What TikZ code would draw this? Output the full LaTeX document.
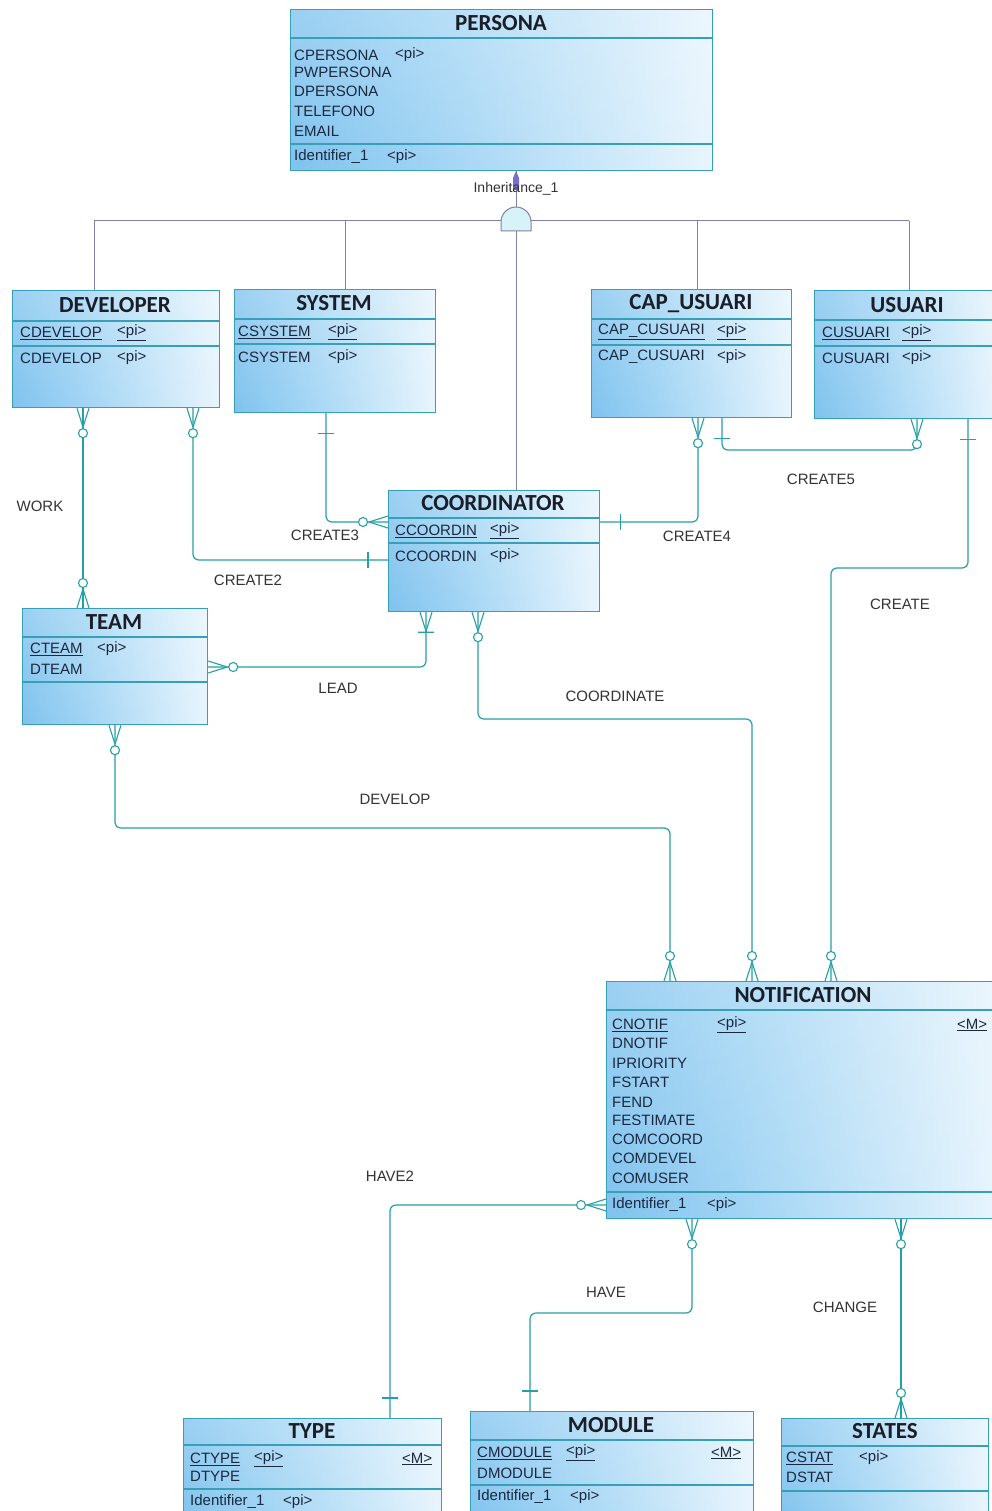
\documentclass[tikz,border=0pt]{standalone}
\usepackage{fontspec}
\setmainfont{Liberation Sans}
\newfontfamily\titlefont{Carlito}
\usetikzlibrary{calc,fadings}
\definecolor{ebord}{RGB}{56,160,182}
\definecolor{conncol}{RGB}{38,160,165}
\definecolor{inhc}{RGB}{128,128,168}
\definecolor{gdark}{RGB}{80,170,230}
\definecolor{gmid}{RGB}{160,212,244}
\definecolor{glight}{RGB}{232,245,253}
\definecolor{txtc}{RGB}{28,40,64}
\definecolor{ttlc}{RGB}{25,30,40}
\definecolor{arrowc}{RGB}{120,110,210}
\definecolor{domec}{RGB}{215,243,248}
\pgfdeclarehorizontalshading{entshade}{100bp}{color(0bp)=(gdark); color(42bp)=(gmid); color(75bp)=(glight); color(100bp)=(white)}
\tikzset{
 entity/.style={draw=ebord, line width=1.2pt, shading=entshade, anchor=north west, inner sep=0pt,
   path picture={\fill[white, opacity=0.22, path fading=south] (path picture bounding box.south west) rectangle (path picture bounding box.north east);}},
 sepline/.style={draw=ebord, line width=1.1pt},
 ttl/.style={font=\titlefont\bfseries\fontsize{23}{25}\selectfont, text=ttlc, inner sep=0pt},
 att/.style={font=\fontsize{15}{17}\selectfont, text=txtc, anchor=west, inner sep=0pt},
 lbl/.style={font=\fontsize{15}{17}\selectfont, text=black!80, inner sep=0pt},
 cn/.style={draw=conncol, line width=1.2pt, rounded corners=6pt},
 cpic/.style={draw=conncol, line width=1.1pt},
 inh/.style={draw=inhc, line width=1pt},
 crowo/.pic={\draw[cpic] (-6,0) -- (0,19) (6,0) -- (0,19); \draw[cpic, fill=white] (0,25) circle[radius=4.5pt];},
 crowbar/.pic={\draw[cpic] (-6,0) -- (0,19) (6,0) -- (0,19) (-8,20) -- (8,20);},
 onebar/.pic={\draw[cpic] (-8,20) -- (8,20);}
}
\newcommand\ent[5]{\node[entity, minimum width=#4pt, minimum height=#5pt] (#1) at (#2,#3) {};}
\newcommand\sepl[2]{\draw[sepline] (#1.west |- 0,#2) -- (#1.east |- 0,#2);}
\begin{document}
\begin{tikzpicture}[x=1pt,y=-1pt]
\useasboundingbox (0,0) rectangle (992,1511);
\clip (0,0) rectangle (992,1511);
\fill[white] (0,0) rectangle (992,1511);

% ---------- entities ----------
\ent{persona}{290}{9}{422}{161}
\ent{developer}{12}{290}{207}{117}
\ent{system}{234}{289}{201}{123}
\ent{capusuari}{591}{289}{200}{128}
\ent{usuari}{814}{290}{186}{128}
\ent{coord}{388}{490}{211}{121}
\ent{team}{22}{608}{185}{116}
\ent{notif}{606}{981}{394}{237}
\ent{type}{183}{1418}{258}{110}
\ent{module}{470}{1411}{283}{117}
\ent{states}{781}{1418}{207}{110}

\sepl{persona}{38}\sepl{persona}{144}
\sepl{developer}{321}\sepl{developer}{346}
\sepl{system}{319}\sepl{system}{344}
\sepl{capusuari}{319}\sepl{capusuari}{345}
\sepl{usuari}{320}\sepl{usuari}{346}
\sepl{coord}{518}\sepl{coord}{543}
\sepl{team}{637}\sepl{team}{682}
\sepl{notif}{1010}\sepl{notif}{1192}
\sepl{type}{1445}\sepl{type}{1489}
\sepl{module}{1440}\sepl{module}{1485}
\sepl{states}{1446}\sepl{states}{1491}

% titles
\node[ttl] (tpersona) at (501,23) {PERSONA};
\node[ttl] (tdeveloper) at (115,305) {DEVELOPER};
\node[ttl] (tsystem) at (334,303) {SYSTEM};
\node[ttl] (tcapusuari) at (691,304) {CAP\_USUARI};
\node[ttl] (tusuari) at (907,305) {USUARI};
\node[ttl] (tcoord) at (493,503) {COORDINATOR};
\node[ttl] (tteam) at (114,622) {TEAM};
\node[ttl] (tnotif) at (803,995) {NOTIFICATION};
\node[ttl] (ttype) at (312,1431) {TYPE};
\node[ttl] (tmodule) at (611,1425) {MODULE};
\node[ttl] (tstates) at (885,1431) {STATES};

% attributes
\node[att] (pa1) at (294,55) {CPERSONA};
\node[att] (pa1p) at (395,55) {<pi>};
\node[att] (pa2) at (294,72) {PWPERSONA};
\node[att] (pa3) at (294,91) {DPERSONA};
\node[att] (pa4) at (294,111) {TELEFONO};
\node[att] (pa5) at (294,131) {EMAIL};
\node[att] (pa6) at (294,157) {Identifier\_1};
\node[att] (pa6p) at (387,157) {<pi>};

\node[att] (da1) at (20,333) {\underline{CDEVELOP}};
\node[att] (da1p) at (117,333) {\underline{<pi>}};
\node[att] (da2) at (20,358) {CDEVELOP};
\node[att] (da2p) at (117,358) {<pi>};

\node[att] (sa1) at (238,332) {\underline{CSYSTEM}};
\node[att] (sa1p) at (328,332) {\underline{<pi>}};
\node[att] (sa2) at (238,357) {CSYSTEM};
\node[att] (sa2p) at (328,357) {<pi>};

\node[att] (ca1) at (598,332) {\underline{CAP\_CUSUARI}};
\node[att] (ca1p) at (717,332) {\underline{<pi>}};
\node[att] (ca2) at (598,357) {CAP\_CUSUARI};
\node[att] (ca2p) at (717,357) {<pi>};

\node[att] (ua1) at (822,333) {\underline{CUSUARI}};
\node[att] (ua1p) at (902,333) {\underline{<pi>}};
\node[att] (ua2) at (822,358) {CUSUARI};
\node[att] (ua2p) at (902,358) {<pi>};

\node[att] (oa1) at (395,531) {\underline{CCOORDIN}};
\node[att] (oa1p) at (490,531) {\underline{<pi>}};
\node[att] (oa2) at (395,556) {CCOORDIN};
\node[att] (oa2p) at (490,556) {<pi>};

\node[att] (ta1) at (30,649) {\underline{CTEAM}};
\node[att] (ta1p) at (97,649) {<pi>};
\node[att] (ta2) at (30,669) {DTEAM};

\node[att] (na1) at (612,1025) {\underline{CNOTIF}};
\node[att] (na1p) at (717,1025) {\underline{<pi>}};
\node[att] (na1m) at (957,1025) {\underline{<M>}};
\node[att] (na2) at (612,1043) {DNOTIF};
\node[att] (na3) at (612,1063) {IPRIORITY};
\node[att] (na4) at (612,1082) {FSTART};
\node[att] (na5) at (612,1102) {FEND};
\node[att] (na6) at (612,1120) {FESTIMATE};
\node[att] (na7) at (612,1139) {COMCOORD};
\node[att] (na8) at (612,1158) {COMDEVEL};
\node[att] (na9) at (612,1178) {COMUSER};
\node[att] (na10) at (612,1205) {Identifier\_1};
\node[att] (na10p) at (707,1205) {<pi>};

\node[att] (ya1) at (190,1459) {\underline{CTYPE}};
\node[att] (ya1p) at (254,1459) {\underline{<pi>}};
\node[att] (ya1m) at (402,1459) {\underline{<M>}};
\node[att] (ya2) at (190,1476) {DTYPE};
\node[att] (ya3) at (190,1502) {Identifier\_1};
\node[att] (ya3p) at (283,1502) {<pi>};

\node[att] (ma1) at (477,1453) {\underline{CMODULE}};
\node[att] (ma1p) at (566,1453) {\underline{<pi>}};
\node[att] (ma1m) at (711,1453) {\underline{<M>}};
\node[att] (ma2) at (477,1473) {DMODULE};
\node[att] (ma3) at (477,1497) {Identifier\_1};
\node[att] (ma3p) at (570,1497) {<pi>};

\node[att] (sta1) at (786,1458) {\underline{CSTAT}};
\node[att] (sta1p) at (859,1458) {<pi>};
\node[att] (sta2) at (786,1477) {DSTAT};

% ---------- inheritance ----------
\coordinate (dome) at (516,231);
\draw[inh] (94,221) -- (909,221);
\draw[inh] (developer.north -| 94,0) -- (94,221);
\draw[inh] (system.north -| 345,0) -- (345,221);
\draw[inh] (capusuari.north -| 697,0) -- (697,221);
\draw[inh] (usuari.north -| 909,0) -- (909,221);
\draw[inh] (coord.north -| 516,0) -- (dome);
\draw[inh] (persona.south -| 516,0) -- (516,207);
\fill[arrowc] (513,190) -- (513,178) -- (516,171) -- (519,178) -- (519,190) -- cycle;
\draw[inh, fill=domec] (501,231) -- (501,222) arc[start angle=180, end angle=0, radius=15pt] -- (531,231) -- cycle;
\node[lbl, font=\fontsize{14}{16}\selectfont] (inhlbl) at (516,189) {Inheritance\_1};

% ---------- relationships ----------
% WORK
\draw[cn] (developer.south -| 83,0) -- (team.north -| 83,0);
\pic at (developer.south -| 83,0) {crowo};
\pic[rotate=180] at (team.north -| 83,0) {crowo};
% CREATE2
\draw[cn] (developer.south -| 193,0) |- (coord.west |- 0,560);
\pic at (developer.south -| 193,0) {crowo};
\pic[rotate=-90] at (coord.west |- 0,560) {onebar};
% CREATE3
\draw[cn] (system.south -| 326,0) |- (coord.west |- 0,522);
\pic at (system.south -| 326,0) {onebar};
\pic[rotate=-90] at (coord.west |- 0,522) {crowo};
% CREATE4
\draw[cn] (capusuari.south -| 698,0) |- (coord.east |- 0,522);
\pic at (capusuari.south -| 698,0) {crowo};
\pic[rotate=90] at (coord.east |- 0,522) {onebar};
% CREATE5
\draw[cn] (capusuari.south -| 722,0) |- (917,450) -- (usuari.south -| 917,0);
\pic at (capusuari.south -| 722,0) {onebar};
\pic at (usuari.south -| 917,0) {crowo};
% CREATE
\draw[cn] (usuari.south -| 968,0) |- (831,568) -- (notif.north -| 831,0);
\pic at (usuari.south -| 968,0) {onebar};
\pic[rotate=180] at (notif.north -| 831,0) {crowo};
% LEAD
\draw[cn] (coord.south -| 426,0) |- (team.east |- 0,667);
\pic at (coord.south -| 426,0) {crowbar};
\pic[rotate=90] at (team.east |- 0,667) {crowo};
% COORDINATE
\draw[cn] (coord.south -| 478,0) |- (752,719) -- (notif.north -| 752,0);
\pic at (coord.south -| 478,0) {crowo};
\pic[rotate=180] at (notif.north -| 752,0) {crowo};
% DEVELOP
\draw[cn] (team.south -| 115,0) |- (670,828) -- (notif.north -| 670,0);
\pic at (team.south -| 115,0) {crowo};
\pic[rotate=180] at (notif.north -| 670,0) {crowo};
% HAVE2
\draw[cn] (notif.west |- 0,1205) -| (type.north -| 390,0);
\pic[rotate=-90] at (notif.west |- 0,1205) {crowo};
\pic[rotate=180] at (type.north -| 390,0) {onebar};
% HAVE
\draw[cn] (notif.south -| 692,0) |- (530,1313) -- (module.north -| 530,0);
\pic at (notif.south -| 692,0) {crowo};
\pic[rotate=180] at (module.north -| 530,0) {onebar};
% CHANGE
\draw[cn] (notif.south -| 901,0) -- (states.north -| 901,0);
\pic at (notif.south -| 901,0) {crowo};
\pic[rotate=180] at (states.north -| 901,0) {crowo};

% labels
\node[lbl] (lwork) at (40,506) {WORK};
\node[lbl] (lc3) at (325,535) {CREATE3};
\node[lbl] (lc2) at (248,580) {CREATE2};
\node[lbl] (lc4) at (697,536) {CREATE4};
\node[lbl] (lc5) at (821,479) {CREATE5};
\node[lbl] (lc) at (900,604) {CREATE};
\node[lbl] (llead) at (338,688) {LEAD};
\node[lbl] (lcoord) at (615,696) {COORDINATE};
\node[lbl] (ldev) at (395,799) {DEVELOP};
\node[lbl] (lhave2) at (390,1176) {HAVE2};
\node[lbl] (lhave) at (606,1292) {HAVE};
\node[lbl] (lchange) at (845,1307) {CHANGE};
\end{tikzpicture}
\end{document}
